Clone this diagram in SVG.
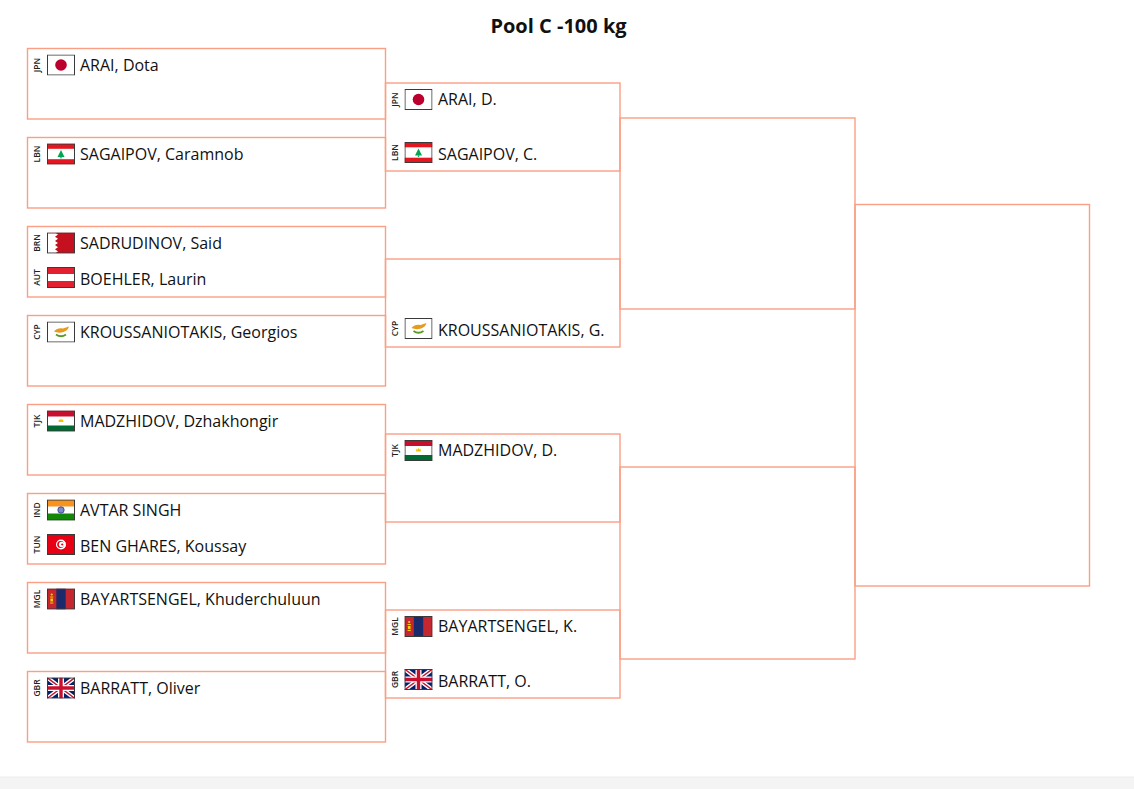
<svg xmlns="http://www.w3.org/2000/svg" xmlns:xlink="http://www.w3.org/1999/xlink" width="1134" height="789" viewBox="0 0 1134 789">
<style>
.box{fill:none;stroke:#fa9f84;stroke-width:1.4}
.nm{font-family:"Open Sans","Liberation Sans",sans-serif;font-size:16px;fill:#111}
.cc{font-family:"Open Sans","Liberation Sans",sans-serif;font-size:8.5px;font-weight:600;fill:#222;text-anchor:middle}
.ttl{font-family:"Open Sans","Liberation Sans",sans-serif;font-size:20px;font-weight:bold;fill:#111;text-anchor:middle}
.fb{fill:none;stroke:#3a3a3a;stroke-width:1}
</style>
<defs>
<symbol id="f-jpn" viewBox="0 0 28 21"><rect width="28" height="21" fill="#fff"/><circle cx="14" cy="10.5" r="5.8" fill="#bc002d"/><rect class="fb" x="0.5" y="0.5" width="27" height="20"/></symbol>
<symbol id="f-lbn" viewBox="0 0 28 21"><rect width="28" height="21" fill="#fff"/><rect width="28" height="5.3" fill="#e4161f"/><rect y="15.7" width="28" height="5.3" fill="#e4161f"/><path d="M14 6.5L17.5 13.5H10.5Z" fill="#00a651"/><rect x="13.4" y="13.3" width="1.2" height="1.6" fill="#00a651"/><rect class="fb" x="0.5" y="0.5" width="27" height="20"/></symbol>
<symbol id="f-brn" viewBox="0 0 28 21"><rect width="28" height="21" fill="#c4101f"/><path d="M0 0H8L11 2.1L8 4.2L11 6.3L8 8.4L11 10.5L8 12.6L11 14.7L8 16.8L11 18.9L8 21H0Z" fill="#fff"/><rect class="fb" x="0.5" y="0.5" width="27" height="20"/></symbol>
<symbol id="f-aut" viewBox="0 0 28 21"><rect width="28" height="21" fill="#e3202f"/><rect y="7" width="28" height="7" fill="#fff"/><rect class="fb" x="0.5" y="0.5" width="27" height="20"/></symbol>
<symbol id="f-cyp" viewBox="0 0 28 21"><rect width="28" height="21" fill="#fff"/><path d="M7 10Q10.5 6 16 7L22 5Q21 9 16.5 10.5Q11.5 12 7 10Z" fill="#e89a1a"/><path d="M9 13Q14 16.5 19 13" fill="none" stroke="#5a9a2a" stroke-width="1.8"/><rect class="fb" x="0.5" y="0.5" width="27" height="20"/></symbol>
<symbol id="f-tjk" viewBox="0 0 28 21"><rect width="28" height="21" fill="#fff"/><rect width="28" height="6" fill="#c8102e"/><rect y="15" width="28" height="6" fill="#006a33"/><path d="M11.5 11.5H16.5L16 8.5L15 9.8L14 8L13 9.8L12 8.5Z" fill="#f2c400"/><rect class="fb" x="0.5" y="0.5" width="27" height="20"/></symbol>
<symbol id="f-ind" viewBox="0 0 28 21"><rect width="28" height="21" fill="#fff"/><rect width="28" height="7" fill="#f7931e"/><rect y="14" width="28" height="7" fill="#138808"/><circle cx="14" cy="10.5" r="3.2" fill="#7d8cc8" stroke="#1a2a80" stroke-width="0.7"/><rect class="fb" x="0.5" y="0.5" width="27" height="20"/></symbol>
<symbol id="f-tun" viewBox="0 0 28 21"><rect width="28" height="21" fill="#e70013"/><circle cx="14" cy="10.5" r="5" fill="#fff"/><circle cx="13.6" cy="10.5" r="3.4" fill="#e70013"/><circle cx="14.6" cy="10.5" r="2.7" fill="#fff"/><circle cx="15.2" cy="10.5" r="1.1" fill="#e70013"/><rect class="fb" x="0.5" y="0.5" width="27" height="20"/></symbol>
<symbol id="f-mgl" viewBox="0 0 28 21"><rect width="28" height="21" fill="#c4272f"/><rect x="9.33" width="9.34" height="21" fill="#1b2a6b"/><circle cx="4.7" cy="6" r="1.1" fill="#f9cf02"/><rect x="3.1" y="8" width="3.2" height="1" fill="#f9cf02"/><rect x="3.4" y="10" width="2.6" height="3" fill="#f9cf02"/><rect x="3.1" y="14" width="3.2" height="1" fill="#f9cf02"/><rect class="fb" x="0.5" y="0.5" width="27" height="20"/></symbol>
<symbol id="f-gbr" viewBox="0 0 28 21"><rect width="28" height="21" fill="#012169"/><path d="M0 0L28 21M28 0L0 21" stroke="#fff" stroke-width="4.2"/><path d="M0 0L28 21M28 0L0 21" stroke="#c8102e" stroke-width="1.4"/><path d="M14 0V21M0 10.5H28" stroke="#fff" stroke-width="6"/><path d="M14 0V21M0 10.5H28" stroke="#c8102e" stroke-width="3.4"/><rect class="fb" x="0.5" y="0.5" width="27" height="20"/></symbol>
</defs>
<rect width="1134" height="789" fill="#fff"/>
<rect x="0" y="777" width="1134" height="12" fill="#f4f4f4"/>
<line x1="0" y1="777" x2="1134" y2="777" stroke="#ececec" stroke-width="1"/>
<text class="ttl" x="558.5" y="33">Pool C -100 kg</text>

<g id="connectors">
<rect class="box" x="620" y="118" width="235" height="191"/>
<rect class="box" x="620" y="467" width="235" height="192"/>
<rect class="box" x="855" y="204.5" width="234.5" height="381.5"/>
</g>

<g id="r1-0">
<rect class="box" x="27.5" y="48.5" width="358" height="70.5"/>
<text class="cc" transform="translate(39.5,65) rotate(-90)">JPN</text>
<use href="#f-jpn" x="47" y="54.5" width="28" height="21"/>
<text class="nm" x="80" y="70.5">ARAI, Dota</text>
</g>
<g id="r1-1">
<rect class="box" x="27.5" y="137.5" width="358" height="70.5"/>
<text class="cc" transform="translate(39.5,154) rotate(-90)">LBN</text>
<use href="#f-lbn" x="47" y="143.5" width="28" height="21"/>
<text class="nm" x="80" y="159.5">SAGAIPOV, Caramnob</text>
</g>
<g id="r1-2">
<rect class="box" x="27.5" y="226.5" width="358" height="70.5"/>
<text class="cc" transform="translate(39.5,243) rotate(-90)">BRN</text>
<use href="#f-brn" x="47" y="232.5" width="28" height="21"/>
<text class="nm" x="80" y="248.5">SADRUDINOV, Said</text>
<text class="cc" transform="translate(39.5,277.5) rotate(-90)">AUT</text>
<use href="#f-aut" x="47" y="267" width="28" height="21"/>
<text class="nm" x="80" y="285">BOEHLER, Laurin</text>
</g>
<g id="r1-3">
<rect class="box" x="27.5" y="315.5" width="358" height="70.5"/>
<text class="cc" transform="translate(39.5,332) rotate(-90)">CYP</text>
<use href="#f-cyp" x="47" y="321.5" width="28" height="21"/>
<text class="nm" x="80" y="337.5">KROUSSANIOTAKIS, Georgios</text>
</g>
<g id="r1-4">
<rect class="box" x="27.5" y="404.5" width="358" height="70.5"/>
<text class="cc" transform="translate(39.5,421) rotate(-90)">TJK</text>
<use href="#f-tjk" x="47" y="410.5" width="28" height="21"/>
<text class="nm" x="80" y="426.5">MADZHIDOV, Dzhakhongir</text>
</g>
<g id="r1-5">
<rect class="box" x="27.5" y="493.5" width="358" height="70.5"/>
<text class="cc" transform="translate(39.5,510) rotate(-90)">IND</text>
<use href="#f-ind" x="47" y="499.5" width="28" height="21"/>
<text class="nm" x="80" y="515.5">AVTAR SINGH</text>
<text class="cc" transform="translate(39.5,544.5) rotate(-90)">TUN</text>
<use href="#f-tun" x="47" y="534" width="28" height="21"/>
<text class="nm" x="80" y="552">BEN GHARES, Koussay</text>
</g>
<g id="r1-6">
<rect class="box" x="27.5" y="582.5" width="358" height="70.5"/>
<text class="cc" transform="translate(39.5,599) rotate(-90)">MGL</text>
<use href="#f-mgl" x="47" y="588.5" width="28" height="21"/>
<text class="nm" x="80" y="604.5">BAYARTSENGEL, Khuderchuluun</text>
</g>
<g id="r1-7">
<rect class="box" x="27.5" y="671.5" width="358" height="70.5"/>
<text class="cc" transform="translate(39.5,688) rotate(-90)">GBR</text>
<use href="#f-gbr" x="47" y="677.5" width="28" height="21"/>
<text class="nm" x="80" y="693.5">BARRATT, Oliver</text>
</g>

<g id="r2-0">
<rect class="box" x="385.5" y="83" width="234.5" height="88"/>
<text class="cc" transform="translate(398,99.5) rotate(-90)">JPN</text>
<use href="#f-jpn" x="404.5" y="89" width="28" height="21"/>
<text class="nm" x="438" y="104.5">ARAI, D.</text>
<text class="cc" transform="translate(398,152.5) rotate(-90)">LBN</text>
<use href="#f-lbn" x="404.5" y="142" width="28" height="21"/>
<text class="nm" x="438" y="160">SAGAIPOV, C.</text>
</g>
<g id="r2-1">
<rect class="box" x="385.5" y="259" width="234.5" height="88"/>
<text class="cc" transform="translate(398,328.5) rotate(-90)">CYP</text>
<use href="#f-cyp" x="404.5" y="318" width="28" height="21"/>
<text class="nm" x="438" y="336">KROUSSANIOTAKIS, G.</text>
</g>
<g id="r2-2">
<rect class="box" x="385.5" y="434" width="234.5" height="88"/>
<text class="cc" transform="translate(398,450.5) rotate(-90)">TJK</text>
<use href="#f-tjk" x="404.5" y="440" width="28" height="21"/>
<text class="nm" x="438" y="455.5">MADZHIDOV, D.</text>
</g>
<g id="r2-3">
<rect class="box" x="385.5" y="610" width="234.5" height="88"/>
<text class="cc" transform="translate(398,626.5) rotate(-90)">MGL</text>
<use href="#f-mgl" x="404.5" y="616" width="28" height="21"/>
<text class="nm" x="438" y="631.5">BAYARTSENGEL, K.</text>
<text class="cc" transform="translate(398,679.5) rotate(-90)">GBR</text>
<use href="#f-gbr" x="404.5" y="669" width="28" height="21"/>
<text class="nm" x="438" y="687">BARRATT, O.</text>
</g>
</svg>
